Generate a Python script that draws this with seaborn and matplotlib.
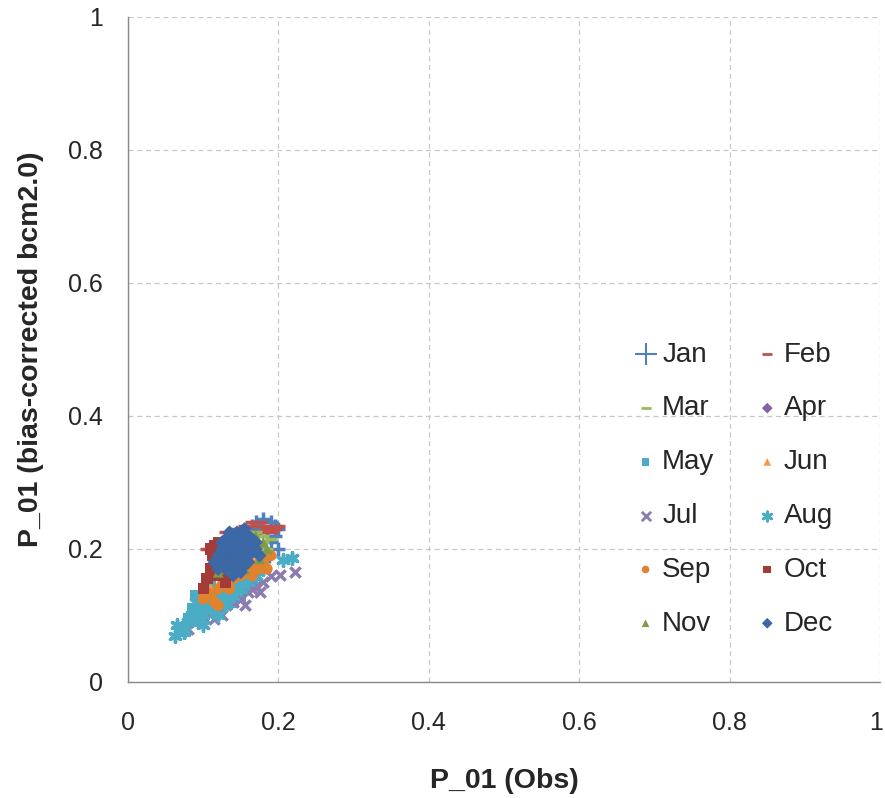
import matplotlib
matplotlib.use("Agg")
import matplotlib.pyplot as plt
import matplotlib.transforms as mtrans
import seaborn as sns
import pandas as pd

months = ["Jan", "Feb", "Mar", "Apr", "May", "Jun", "Jul", "Aug", "Sep", "Oct", "Nov", "Dec"]

jan_x = [0.17, 0.18, 0.19, 0.195, 0.2, 0.185, 0.175, 0.165, 0.19, 0.2, 0.18, 0.16, 0.15, 0.14, 0.195, 0.188]
jan_y = [0.24, 0.245, 0.24, 0.235, 0.23, 0.22, 0.23, 0.235, 0.21, 0.2, 0.2, 0.22, 0.21, 0.2, 0.22, 0.19]
feb_x = [0.12, 0.125, 0.13, 0.14, 0.15, 0.16, 0.17, 0.18, 0.19, 0.195, 0.145, 0.155, 0.165, 0.175, 0.185, 0.135,
         0.11, 0.115, 0.16, 0.17, 0.105, 0.115, 0.125, 0.15, 0.18, 0.19, 0.2, 0.14, 0.13]
feb_y = [0.20, 0.205, 0.21, 0.22, 0.23, 0.235, 0.235, 0.235, 0.235, 0.23, 0.225, 0.235, 0.24, 0.24, 0.23, 0.215,
         0.20, 0.19, 0.225, 0.225, 0.2, 0.205, 0.215, 0.225, 0.225, 0.225, 0.235, 0.23, 0.225]
mar_x = [0.14, 0.15, 0.16, 0.17, 0.18, 0.19, 0.165, 0.175, 0.155, 0.145, 0.13, 0.185, 0.17, 0.18]
mar_y = [0.2, 0.21, 0.22, 0.225, 0.22, 0.215, 0.2, 0.205, 0.19, 0.185, 0.175, 0.2, 0.19, 0.21]
apr_x = [0.09, 0.10, 0.11, 0.12, 0.13, 0.14, 0.15, 0.16, 0.17, 0.105, 0.125, 0.145, 0.165, 0.115, 0.135, 0.155]
apr_y = [0.10, 0.11, 0.115, 0.12, 0.13, 0.135, 0.14, 0.15, 0.16, 0.12, 0.125, 0.145, 0.155, 0.105, 0.12, 0.135]
may_x = [0.08, 0.09, 0.10, 0.11, 0.12, 0.13, 0.14, 0.15, 0.16, 0.17, 0.085, 0.095, 0.105, 0.115, 0.125, 0.135,
         0.145, 0.155, 0.10, 0.12, 0.14, 0.09, 0.11, 0.13, 0.15, 0.165, 0.105, 0.125]
may_y = [0.095, 0.10, 0.11, 0.115, 0.12, 0.13, 0.135, 0.145, 0.15, 0.16, 0.11, 0.12, 0.125, 0.13, 0.14, 0.145,
         0.15, 0.16, 0.095, 0.105, 0.12, 0.13, 0.15, 0.12, 0.13, 0.145, 0.135, 0.115]
jun_x = [0.11, 0.12, 0.13, 0.14, 0.15, 0.16, 0.17, 0.18, 0.125, 0.135, 0.145, 0.155, 0.165, 0.175]
jun_y = [0.14, 0.145, 0.15, 0.16, 0.165, 0.17, 0.18, 0.185, 0.155, 0.165, 0.17, 0.175, 0.185, 0.19]
jul_x = [0.07, 0.08, 0.09, 0.10, 0.11, 0.12, 0.13, 0.14, 0.15, 0.16, 0.17, 0.18, 0.19, 0.202, 0.222, 0.085,
         0.095, 0.125, 0.145, 0.165, 0.175, 0.155, 0.135, 0.115]
jul_y = [0.075, 0.08, 0.09, 0.10, 0.105, 0.11, 0.115, 0.12, 0.125, 0.135, 0.145, 0.15, 0.16, 0.161, 0.165, 0.095,
         0.11, 0.10, 0.13, 0.14, 0.135, 0.115, 0.125, 0.095]
aug_x = [0.0625, 0.065, 0.07, 0.075, 0.08, 0.09, 0.10, 0.11, 0.12, 0.13, 0.14, 0.15, 0.16, 0.17, 0.18, 0.206,
         0.218, 0.085, 0.095, 0.105, 0.115, 0.125, 0.135, 0.145, 0.155, 0.165, 0.1, 0.12, 0.09, 0.11, 0.13]
aug_y = [0.069, 0.086, 0.08, 0.075, 0.09, 0.095, 0.10, 0.11, 0.115, 0.125, 0.13, 0.14, 0.15, 0.16, 0.17, 0.183,
         0.186, 0.10, 0.11, 0.12, 0.13, 0.135, 0.14, 0.15, 0.155, 0.165, 0.085, 0.10, 0.12, 0.125, 0.115]
sep_x = [0.10, 0.11, 0.12, 0.13, 0.14, 0.15, 0.16, 0.17, 0.18, 0.19, 0.115, 0.125, 0.135, 0.145, 0.155, 0.165,
         0.175, 0.105, 0.12, 0.185, 0.16]
sep_y = [0.125, 0.13, 0.14, 0.15, 0.155, 0.16, 0.165, 0.175, 0.18, 0.19, 0.12, 0.145, 0.14, 0.165, 0.17, 0.16,
         0.17, 0.135, 0.115, 0.17, 0.175]
oct_x = [0.11, 0.115, 0.12, 0.125, 0.13, 0.12, 0.11, 0.105, 0.10, 0.135, 0.115, 0.125, 0.13, 0.112, 0.118]
oct_y = [0.20, 0.205, 0.21, 0.20, 0.19, 0.18, 0.17, 0.155, 0.14, 0.20, 0.185, 0.165, 0.15, 0.19, 0.16]
nov_x = [0.13, 0.14, 0.15, 0.16, 0.17, 0.18, 0.16, 0.17, 0.15, 0.14, 0.12, 0.175, 0.185, 0.165, 0.155]
nov_y = [0.17, 0.175, 0.18, 0.19, 0.20, 0.21, 0.215, 0.22, 0.20, 0.19, 0.165, 0.185, 0.20, 0.20, 0.17]
dec_x = [0.12, 0.13, 0.14, 0.15, 0.16, 0.17, 0.13, 0.14, 0.15, 0.16, 0.12, 0.13, 0.14, 0.15, 0.16, 0.17, 0.135,
         0.145, 0.155, 0.165, 0.125, 0.14, 0.15, 0.16, 0.115, 0.175, 0.145, 0.13, 0.155, 0.14, 0.125, 0.135, 0.145,
         0.155, 0.165, 0.125, 0.135, 0.15, 0.16, 0.14]
dec_y = [0.19, 0.20, 0.21, 0.22, 0.22, 0.21, 0.18, 0.19, 0.20, 0.21, 0.17, 0.17, 0.18, 0.19, 0.20, 0.20, 0.21,
         0.225, 0.23, 0.215, 0.20, 0.17, 0.18, 0.19, 0.18, 0.19, 0.215, 0.215, 0.175, 0.2, 0.185, 0.195, 0.205,
         0.21, 0.195, 0.21, 0.225, 0.165, 0.18, 0.16]

xs = [jan_x, feb_x, mar_x, apr_x, may_x, jun_x, jul_x, aug_x, sep_x, oct_x, nov_x, dec_x]
ys = [jan_y, feb_y, mar_y, apr_y, may_y, jun_y, jul_y, aug_y, sep_y, oct_y, nov_y, dec_y]

ticks = [0, 0.2, 0.4, 0.6, 0.8, 1]
tick_labels = ["0", "0.2", "0.4", "0.6", "0.8", "1"]

colors = ["#4F81BD", "#C0504D", "#9BBB59", "#8064A2", "#4BACC6", "#F79646",
          "#8C7BAE", "#4BACC6", "#E0822E", "#A33B38", "#7F9A48", "#3C68A6"]
markers = ["+", "_", "_", "D", "s", "^", "x", (6, 2, 0), "o", "s", "^", "D"]
sizes = [90, 90, 80, 40, 60, 60, 55, 70, 65, 65, 60, 50]
line_markers = ["+", "_", "x", (6, 2, 0)]

sns.set_style("white")
plt.rcParams['font.family'] = ['Liberation Sans', 'DejaVu Sans']

fig = plt.figure(figsize=(8.85, 7.98), dpi=100)
ax = fig.add_axes([0.1446, 0.1454, 0.8497, 0.8333])

for i, m in enumerate(months):
    df = pd.DataFrame({"x": xs[i], "y": ys[i]})
    is_line = markers[i] in line_markers
    sns.scatterplot(data=df, x="x", y="y", ax=ax, color=colors[i], marker=markers[i],
                    s=sizes[i], linewidth=2.5 if is_line else 0,
                    edgecolor=colors[i] if is_line else "none",
                    label=m, zorder=3 + i)

ax.set_xlim(0, 1)
ax.set_ylim(0, 1)
ax.set_xticks(ticks)
ax.set_yticks(ticks)
ax.set_xticklabels(tick_labels, fontsize=18)
ax.set_yticklabels(tick_labels, fontsize=18)
ax.grid(True, linestyle=(0, (4, 3)), color="#C8C8C8", linewidth=0.9)
ax.set_axisbelow(True)
for side in ["top", "right"]:
    ax.spines[side].set_visible(False)
for side in ["left", "bottom"]:
    ax.spines[side].set_color("#888888")
    ax.spines[side].set_linewidth(1.0)
ax.tick_params(axis="x", direction="out", length=5, color="#888888", width=1, pad=16)
ax.tick_params(axis="y", direction="out", length=5, color="#888888", width=1, pad=13)
last = ax.get_xticklabels()[-1]
last.set_transform(last.get_transform() + mtrans.ScaledTranslation(-4 / 100, 0, fig.dpi_scale_trans))
ax.set_xlabel("P_01 (Obs)", fontsize=20.5, fontweight="bold", labelpad=24)
ax.set_ylabel("P_01 (bias-corrected bcm2.0)", fontsize=20.5, fontweight="bold", labelpad=17)

h, l = ax.get_legend_handles_labels()
order = [0, 2, 4, 6, 8, 10, 1, 3, 5, 7, 9, 11]
leg = ax.legend([h[k] for k in order], [l[k] for k in order], ncol=2, loc="upper left",
                bbox_to_anchor=(0.644, 0.541), frameon=False, fontsize=20, labelspacing=1.0,
                handletextpad=0.1, columnspacing=1.4, handlelength=1.0, borderpad=0.2)
for k, hd in zip(order, leg.legend_handles):
    if k == 0:
        hd.set_sizes([260])
        hd.set_linewidths([1.5])
    elif markers[k] in line_markers:
        hd.set_sizes([45])
        hd.set_linewidths([2.0])
    else:
        hd.set_sizes([30])

fig.savefig("out.png", dpi=100)
